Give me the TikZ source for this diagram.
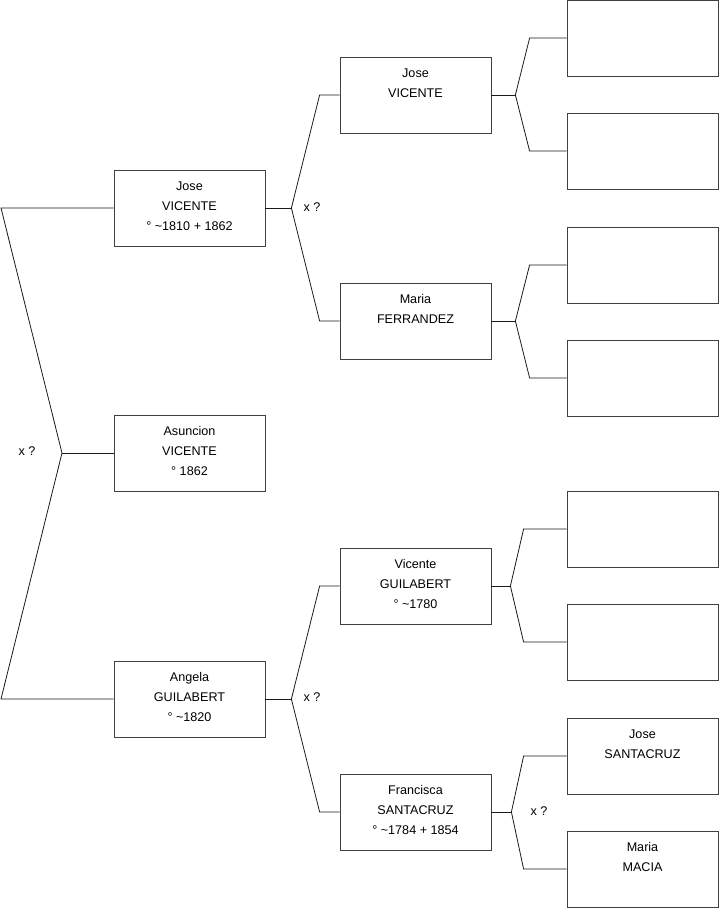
\documentclass[tikz,border=0pt]{standalone}
\usepackage{fontspec}
\setmainfont{Liberation Sans}
\begin{document}
\begin{tikzpicture}[x=1pt,y=-1pt,
  person/.style={draw=black!75, line width=0.8pt, minimum width=151pt, minimum height=76pt, align=center, font=\fontsize{12.6}{20}\selectfont, inner sep=0pt, text depth=4pt},
  link/.style={line width=0.8pt, draw=black!90},
  lab/.style={font=\fontsize{12.6}{14}\selectfont, inner sep=0pt}]
\useasboundingbox (0,0) rectangle (719,908);
% column 1
\node[person] (jv1) at (189.5,208) {Jose\\VICENTE\\° \textasciitilde1810 + 1862};
\node[person] (as)  at (189.5,453) {Asuncion\\VICENTE\\° 1862};
\node[person] (ag)  at (189.5,699) {Angela\\GUILABERT\\° \textasciitilde1820};
% column 2
\node[person] (jv2) at (415.5,95)  {Jose\\VICENTE\\\mbox{}};
\node[person] (mf)  at (415.5,321) {Maria\\FERRANDEZ\\\mbox{}};
\node[person] (vg)  at (415.5,586) {Vicente\\GUILABERT\\° \textasciitilde1780};
\node[person] (fs)  at (415.5,812) {Francisca\\SANTACRUZ\\° \textasciitilde1784 + 1854};
% column 3
\node[person] (e1) at (642.5,38)  {};
\node[person] (e2) at (642.5,151) {};
\node[person] (e3) at (642.5,265) {};
\node[person] (e4) at (642.5,378) {};
\node[person] (e5) at (642.5,529) {};
\node[person] (e6) at (642.5,642) {};
\node[person] (js) at (642.5,756) {Jose\\SANTACRUZ\\\mbox{}};
\node[person] (mm) at (642.5,869) {Maria\\MACIA\\\mbox{}};
% left bracket
\coordinate (L) at (62,453);
\draw[link] (jv1.west) -- (1,208) -- (L) -- (1,699) -- (ag.west);
\draw[link] (L) -- (as.west);
\node[lab] (x0) at (27,451) {x ?};
% column 1 to column 2
\draw[link] (jv1.east) -- ++(26,0) coordinate (f1);
\draw[link] (f1) -- ([xshift=-20pt]jv2.west) -- (jv2.west);
\draw[link] (f1) -- ([xshift=-20pt]mf.west) -- (mf.west);
\node[lab] (x1) at (312,207) {x ?};
\draw[link] (ag.east) -- ++(26,0) coordinate (f2);
\draw[link] (f2) -- ([xshift=-20pt]vg.west) -- (vg.west);
\draw[link] (f2) -- ([xshift=-20pt]fs.west) -- (fs.west);
\node[lab] (x2) at (312,697) {x ?};
% column 2 to column 3
\draw[link] (jv2.east) -- ++(24,0) coordinate (g1);
\draw[link] (g1) -- ([xshift=-37pt]e1.west) -- (e1.west);
\draw[link] (g1) -- ([xshift=-37pt]e2.west) -- (e2.west);
\draw[link] (mf.east) -- ++(24,0) coordinate (g2);
\draw[link] (g2) -- ([xshift=-37pt]e3.west) -- (e3.west);
\draw[link] (g2) -- ([xshift=-37pt]e4.west) -- (e4.west);
\draw[link] (vg.east) -- ++(19,0) coordinate (g3);
\draw[link] (g3) -- ([xshift=-43pt]e5.west) -- (e5.west);
\draw[link] (g3) -- ([xshift=-43pt]e6.west) -- (e6.west);
\draw[link] (fs.east) -- ++(20,0) coordinate (g4);
\draw[link] (g4) -- ([xshift=-43pt]js.west) -- (js.west);
\draw[link] (g4) -- ([xshift=-43pt]mm.west) -- (mm.west);
\node[lab] (x3) at (539,811) {x ?};
\end{tikzpicture}
\end{document}
